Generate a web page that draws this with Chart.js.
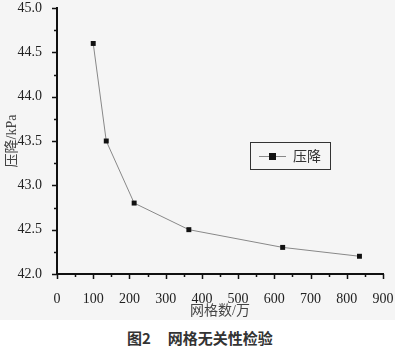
<!DOCTYPE html>
<html>
<head>
<meta charset="utf-8">
<script src="https://cdn.jsdelivr.net/npm/chart.js@4"></script>
<style>
  body { margin: 0; background: #fff; }
  #wrap { width: 395px; height: 320px; background: #f5f5f5; }
  #caption {
    position: absolute; left: 127px; top: 328px; white-space: nowrap;
    font: bold 15px "Noto Sans CJK SC", sans-serif; color: #333; line-height: 20px;
  }
  #caption span { margin-left: 17px; }
</style>
</head>
<body>
<div id="wrap"><canvas id="chart" width="395" height="320"></canvas></div>
<div id="caption">图2<span>网格无关性检验</span></div>
<script>
// data
const meshCounts = [100, 136, 213, 364, 623, 835];   // 网格数/万
const pressureDrop = [44.6, 43.5, 42.8, 42.5, 42.3, 42.2]; // 压降/kPa
const seriesName = '压降';
const xTitle = '网格数/万';
const yTitle = '压降/kPa';

const numFont = "'Liberation Serif', serif";
const textFont = "'Liberation Serif', 'Noto Sans CJK SC', serif";

Chart.defaults.font.family = numFont;
Chart.defaults.font.size = 14;

// major + minor tick marks drawn outward, plus the boxed legend
const tickMarks = {
  id: 'tickMarks',
  afterDraw(chart) {
    const ctx = chart.ctx;
    const x = chart.scales.x, y = chart.scales.y;
    ctx.save();
    ctx.strokeStyle = '#111';
    ctx.lineWidth = 1.5;
    ctx.beginPath();
    for (let v = 0; v <= 900; v += 50) {
      const px = Math.round(x.getPixelForValue(v)) + 0.5;
      const len = v % 100 === 0 ? 5 : 3;
      ctx.moveTo(px, y.bottom);
      ctx.lineTo(px, y.bottom + len);
    }
    for (let i = 0; i <= 12; i++) {
      const v = 42 + i * 0.25;
      const py = Math.round(y.getPixelForValue(v)) + 0.5;
      const len = i % 2 === 0 ? 5 : 3;
      ctx.moveTo(x.left, py);
      ctx.lineTo(x.left - len, py);
    }
    ctx.stroke();

    // legend box
    ctx.lineWidth = 1;
    ctx.strokeStyle = '#333';
    ctx.strokeRect(250.5, 142.5, 80, 27);
    ctx.strokeStyle = '#888';
    ctx.beginPath();
    ctx.moveTo(259, 156.5);
    ctx.lineTo(286, 156.5);
    ctx.stroke();
    ctx.fillStyle = '#111';
    ctx.fillRect(269, 153, 7, 7);
    ctx.fillStyle = '#333';
    ctx.font = '14px ' + textFont;
    ctx.textBaseline = 'middle';
    ctx.fillText(seriesName, 293, 157);
    ctx.restore();
  }
};

function draw() {
  new Chart(document.getElementById('chart'), {
    type: 'scatter',
    data: {
      datasets: [{
        label: seriesName,
        data: meshCounts.map((m, i) => ({ x: m, y: pressureDrop[i] })),
        showLine: true,
        borderColor: '#888',
        borderWidth: 1,
        pointStyle: 'rect',
        pointRadius: 3.5,
        pointBackgroundColor: '#111',
        pointBorderColor: '#111',
        pointBorderWidth: 0
      }]
    },
    options: {
      responsive: false,
      animation: false,
      layout: { padding: { left: 4, right: 0, top: 0, bottom: 0 } },
      plugins: { legend: { display: false }, tooltip: { enabled: false } },
      scales: {
        x: {
          type: 'linear', min: 0, max: 900,
          ticks: { stepSize: 100, color: '#222', padding: 9, font: { family: numFont, size: 14 } },
          grid: { display: false },
          border: { display: true, color: '#111', width: 2 },
          title: { display: true, text: xTitle, color: '#444', padding: { top: 4, bottom: 0 }, font: { family: textFont, size: 14 } },
          afterFit(s) { s.height = 46; s.paddingRight = 12; s.paddingLeft = 0; }
        },
        y: {
          min: 42, max: 45,
          ticks: { stepSize: 0.5, color: '#222', padding: 7, callback: v => v.toFixed(1), font: { family: numFont, size: 14 } },
          grid: { display: false },
          border: { display: true, color: '#111', width: 2 },
          title: { display: true, text: yTitle, color: '#444', padding: 0, font: { family: textFont, size: 14 } },
          afterFit(s) { s.width = 53; s.paddingTop = 8; s.paddingBottom = 0; }
        }
      }
    },
    plugins: [tickMarks]
  });
}

window.addEventListener('load', () => document.fonts.ready.then(draw));
</script>
</body>
</html>
